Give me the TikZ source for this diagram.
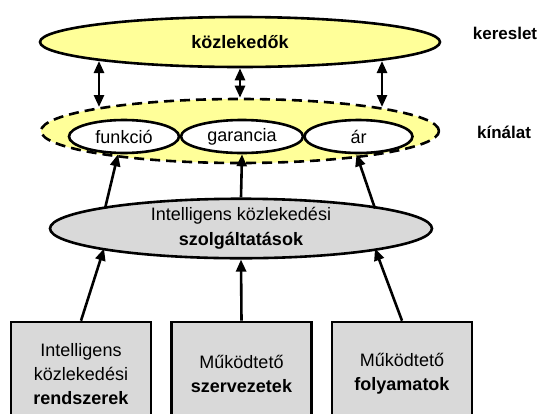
\documentclass[tikz,border=0pt]{standalone}
\usepackage{fontspec}
\setmainfont{Liberation Sans}
\usetikzlibrary{arrows.meta, shapes.geometric, calc}
\definecolor{paleyellow}{HTML}{FFFF99}
\definecolor{boxgray}{HTML}{D9D9D9}

\begin{document}
\begin{tikzpicture}[x=1pt, y=-1pt, line width=2.6pt,
    >={Triangle[length=12pt, width=10pt]},
    oval/.style={ellipse, draw, inner sep=0pt, align=center,
      font=\fontsize{18}{25}\selectfont},
    part/.style={oval, fill=white, minimum height=33pt},
    unit/.style={rectangle, draw, fill=boxgray, inner sep=0pt,
      minimum width=140pt, minimum height=104pt, align=center,
      font=\fontsize{18}{24}\selectfont},
    side/.style={font=\fontsize{17}{20}\selectfont\bfseries}]
  \useasboundingbox (0,0) rectangle (541,413);

  % Demand side
  \node[oval, fill=paleyellow, minimum width=400pt, minimum height=50pt]
    (dem) at (240,42) {\textbf{közlekedők}};
  \node[side] (kereslet) at (505,33) {kereslet};

  % Supply side
  \node[oval, fill=paleyellow, dash pattern=on 10pt off 6pt,
    minimum width=398pt, minimum height=64pt] (sup) at (240,131) {};
  \node[part, minimum width=110pt] (fun) at (124,136.5) {funkció};
  \node[part, minimum width=122pt] (gar) at (242,136.5) {garancia};
  \node[part, minimum width=108pt] (ar) at (358.5,136.5) {ár};
  \node[side] (kinalat) at (504,132) {kínálat};

  % Services
  \node[oval, fill=boxgray, minimum width=382pt, minimum height=53pt]
    (svc) at (241,228.5) {Intelligens közlekedési\\\textbf{szolgáltatások}};

  % Bottom boxes
  \node[unit] (rsz) at (81,374)
    {Intelligens\\közlekedési\\\textbf{rendszerek}};
  \node[unit] (szv) at (241.5,374) {Működtető\\\textbf{szervezetek}};
  \node[unit] (fly) at (402,374) {Működtető\\\textbf{folyamatok}};

  % Demand <-> supply
  \draw[<->] ($(dem.center)+(-141,19)$) -- ($(sup.center)+(-141,-24)$);
  \draw[<->] (dem.south) -- (sup.north);
  \draw[<->] ($(dem.center)+(142,19)$) -- ($(sup.center)+(142,-24)$);

  % Services -> supply elements
  \draw[->] ($(svc.center)+(-136,-20)$) -- ($(fun.south)+(-6,0)$);
  \draw[->] (svc.north) -- (gar.south);
  \draw[->] ($(svc.center)+(134,-20)$) -- ($(ar.south)+(-2,0)$);

  % Boxes -> services
  \draw[->] (rsz.north) -- ($(svc.center)+(-137,20)$);
  \draw[->] (szv.north) -- (svc.south);
  \draw[->] (fly.north) -- ($(svc.center)+(134,20)$);
\end{tikzpicture}
\end{document}
